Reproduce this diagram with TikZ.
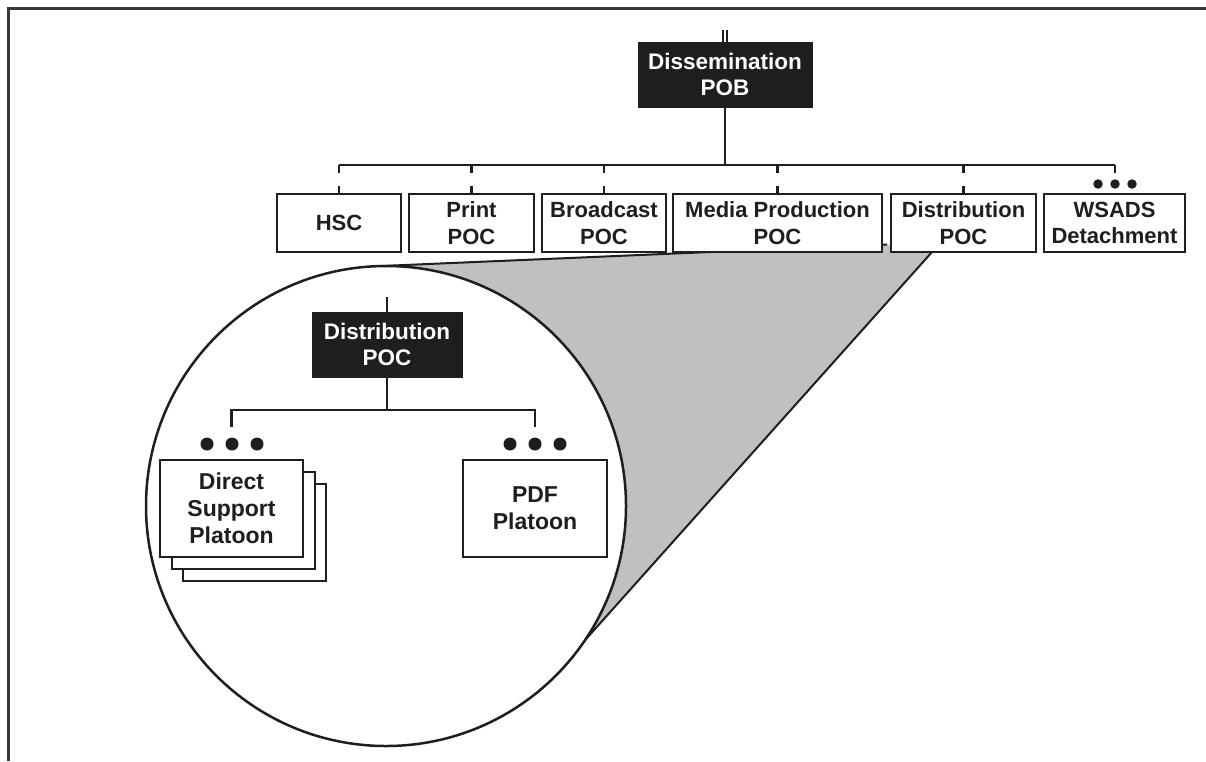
\documentclass[tikz,border=0pt]{standalone}
\usepackage{fontspec}
\setmainfont{Liberation Sans}
\usetikzlibrary{calc}
\definecolor{ink}{RGB}{30,30,30}
\definecolor{framec}{RGB}{55,55,55}
\definecolor{zoomgray}{RGB}{192,192,192}
\begin{document}
\begin{tikzpicture}[x=1pt,y=-1pt,
  rowbox/.style={draw=ink,line width=2.6pt,fill=white,align=center,inner sep=0pt,
    minimum height=58pt,text=ink,font=\fontsize{22}{26.5}\selectfont\bfseries},
  blackbox/.style={draw=ink,line width=1pt,fill=ink,align=center,inner sep=0pt,
    text=white,font=\fontsize{22.5}{26.5}\selectfont\bfseries},
  subbox/.style={draw=ink,line width=2.6pt,fill=white,align=center,inner sep=0pt,
    minimum width=143pt,minimum height=97pt,text=ink,font=\fontsize{23}{27}\selectfont\bfseries},
  link/.style={draw=ink,line width=2.5pt},
  droplink/.style={draw=ink,line width=2.5pt,dash pattern=on 8pt off 13pt on 10pt},
  bigdot/.style={circle,fill=ink,inner sep=0pt,minimum size=13pt},
  smalldot/.style={circle,fill=ink,inner sep=0pt,minimum size=9.5pt}]
\useasboundingbox (0,0) rectangle (1206,761);
% frame
\draw[framec,line width=3pt] (8,761) -- (8,8) -- (1206,8);
% zoom funnel
\coordinate (C) at (386,506);
\coordinate (T1) at ($(C)+(-92:240)$);
\coordinate (T2) at ($(C)+(34:240)$);
\coordinate (G1) at (887,244.5);
\coordinate (G2) at (932,252);
\fill[zoomgray] (T1) -- (G1) -- (G2) -- (T2) -- (C) -- cycle;
\draw[ink,line width=2pt] (T1) -- (G1);
\draw[ink,line width=2pt] (G2) -- (T2);
\draw[ink,line width=2.5pt,fill=white] (C) circle[radius=240];
% top level
\node[blackbox,minimum width=174pt,minimum height=65pt] (pob) at (725,74.5) {Dissemination\\POB};
\coordinate (pobA) at (723,30);
\coordinate (pobB) at (727,30);
\draw[ink,line width=1.6pt] (pobA) -- (pobA |- pob.north);
\draw[ink,line width=1.6pt] (pobB) -- (pobB |- pob.north);
\node[rowbox,minimum width=124pt] (hsc) at (339,223) {HSC};
\node[rowbox,minimum width=125pt] (print) at (471.5,223) {Print\\POC};
\node[rowbox,minimum width=124pt] (broad) at (604,223) {Broadcast\\POC};
\node[rowbox,minimum width=209pt] (media) at (777.5,223) {Media Production\\POC};
\node[rowbox,minimum width=145pt] (dist) at (963.5,223) {Distribution\\POC};
\node[rowbox,minimum width=141pt] (wsads) at (1114.5,223) {WSADS\\Detachment};
\coordinate (busL) at (339,165);
\coordinate (busR) at (1115,165);
\coordinate (pobBus) at (725,165);
\draw[link] (pob.south) -- (pobBus);
\draw[link] (busL) -- (busR);
\draw[droplink] (hsc.north |- busL) -- (hsc.north);
\draw[droplink] (print.north |- busL) -- (print.north);
\draw[droplink] (broad.north |- busL) -- (broad.north);
\draw[droplink] (media.north |- busL) -- (media.north);
\draw[droplink] (dist.north |- busL) -- (dist.north);
\coordinate (wsEnd) at (1115,173);
\draw[link] (busR) -- (wsEnd);
\node[smalldot] (w1) at (1098,184) {};
\node[smalldot] (w2) at (1115,184) {};
\node[smalldot] (w3) at (1132,184) {};
% inside the circle
\node[blackbox,minimum width=150pt,minimum height=65pt] (dpoc) at (387,344.5) {Distribution\\POC};
\coordinate (dtop) at (387,297);
\draw[link] (dtop) -- (dpoc.north);
\node[subbox] (dsp3) at (254.5,532.5) {};
\node[subbox] (dsp2) at (243.5,520.5) {};
\node[subbox] (dsp) at (231.5,508.5) {Direct\\Support\\Platoon};
\node[subbox,minimum width=144pt] (pdf) at (535,508.5) {PDF\\Platoon};
\coordinate (dbus) at (387,410);
\coordinate (dbusL) at (231.5,410);
\coordinate (dbusR) at (535,410);
\coordinate (dropL) at (231.5,427);
\coordinate (dropR) at (535,427);
\draw[link] (dpoc.south) -- (dbus);
\draw[link] (dropL) -- (dbusL) -- (dbusR) -- (dropR);
\node[bigdot] (l1) at (207,444) {};
\node[bigdot] (l2) at (232,444) {};
\node[bigdot] (l3) at (257,444) {};
\node[bigdot] (r1) at (510,444) {};
\node[bigdot] (r2) at (535,444) {};
\node[bigdot] (r3) at (560,444) {};
\end{tikzpicture}
\end{document}
